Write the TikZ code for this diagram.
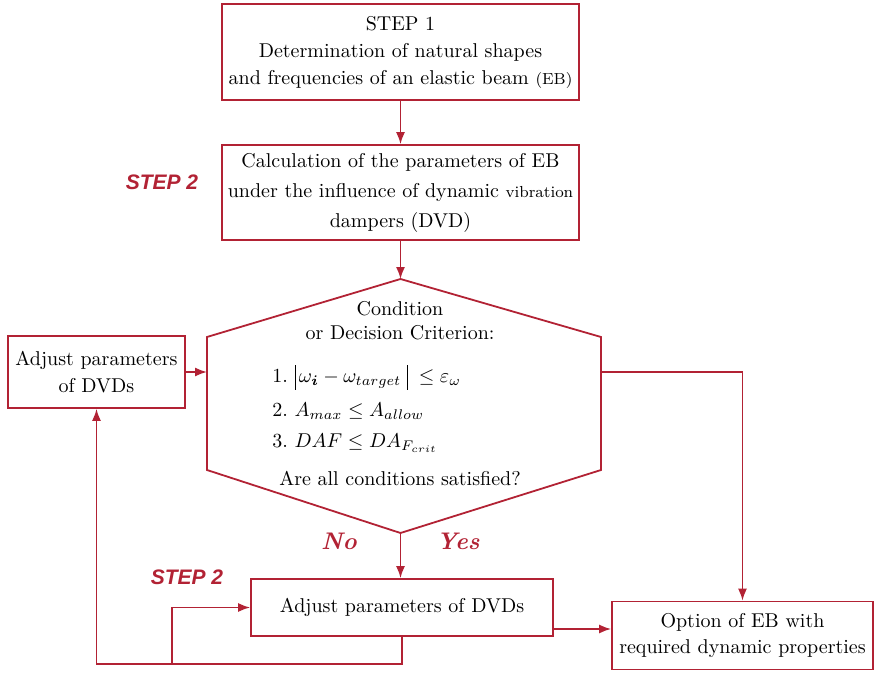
\documentclass[tikz,border=0pt]{standalone}
\usepackage{fontspec}
\setsansfont{Liberation Sans}
\usepackage{bm}
\usetikzlibrary{arrows.meta,positioning}
\definecolor{flowred}{RGB}{178,34,52}
\newcommand{\absbar}{\mathord{\rule[-3.5pt]{0.45pt}{12.5pt}}}
\tikzset{
  stepbox/.style={
    draw=flowred,
    line width=0.9pt,
    align=center,
    inner sep=0pt
  },
  steplabel/.style={text=flowred, font=\sffamily\bfseries\itshape\fontsize{10.5}{12}\selectfont},
  answer/.style={text=flowred, font=\large\bfseries\itshape},
  flow/.style={-{Latex[length=6pt,width=4.5pt]}, line width=0.8pt, draw=flowred}
}

\begin{document}
\begin{tikzpicture}[x=0.5pt,y=-0.5pt]
  \useasboundingbox (0,0) rectangle (875,675);

  \node[stepbox, minimum width=178.5pt, minimum height=48pt] (s1) at (400.5,52) {STEP 1\\[1.5pt]Determination of natural shapes\\[1.5pt]and frequencies of an elastic beam {\footnotesize(EB)}};
  \node[stepbox, minimum width=178.5pt, minimum height=47.5pt] (s2) at (400.5,192.5) {Calculation of the parameters of EB\\[3pt]under the influence of dynamic {\footnotesize vibration}\\[3pt]dampers (DVD)};
  \node[steplabel] (lab2) at (162,182) {STEP 2};

  \coordinate (htop) at (400.5,279);
  \coordinate (hul) at (207,337);
  \coordinate (hll) at (207,470);
  \coordinate (hbot) at (400.5,533);
  \coordinate (hlr) at (601,470);
  \coordinate (hur) at (601,337);
  \draw[draw=flowred, line width=0.9pt] (htop) -- (hur) -- (hlr) -- (hbot) -- (hll) -- (hul) -- cycle;
  \node[align=center, inner sep=1pt] (crit) at (400,321) {Condition\\or Decision Criterion:};
  \node[anchor=west, inner sep=1pt] (c1) at (270,377) {1.~$\absbar\,\omega_{\bm{i}} - \omega_{target}\;\absbar\;\le \varepsilon_{\omega}$};
  \node[anchor=west, inner sep=1pt] (c2) at (270,411) {2.~$A_{max} \le A_{allow}$};
  \node[anchor=west, inner sep=1pt] (c3) at (270,443) {3.~$DAF \le DA_{F_{crit}}$};
  \node (ask) at (400,478) {Are all conditions satisfied?};

  \node[stepbox, minimum width=88.5pt, minimum height=36pt] (adj1) at (96.5,372) {Adjust parameters\\[1.5pt]of DVDs};
  \node[answer] (no) at (339,541) {No};
  \node[answer] (yes) at (458,541) {Yes};
  \node[steplabel] (lab3) at (187,577) {STEP 2};
  \node[stepbox, minimum width=151pt, minimum height=28.5pt] (adj2) at (402,607.5) {Adjust parameters of DVDs};
  \node[stepbox, minimum width=130.5pt, minimum height=34pt] (opt) at (742.5,635.5) {Option of EB with\\[1pt]required dynamic properties};

  \coordinate (toopt) at (553,629);
  \coordinate (split) at (172,663);

  \draw[flow] (s1) -- (s2);
  \draw[flow] (s2) -- (htop);
  \draw[flow] (adj1.east) -- (adj1.east -| hul);
  \draw[flow] (hur |- adj1.east) -| (opt.north);
  \draw[flow] (hbot) -- (hbot |- adj2.north);
  \draw[flow] (toopt) -- (toopt -| opt.west);
  \draw[flow] (adj2.south) -- ++(0,27) -| (adj1.south);
  \draw[flow] (split) |- (adj2.west);
\end{tikzpicture}
\end{document}
